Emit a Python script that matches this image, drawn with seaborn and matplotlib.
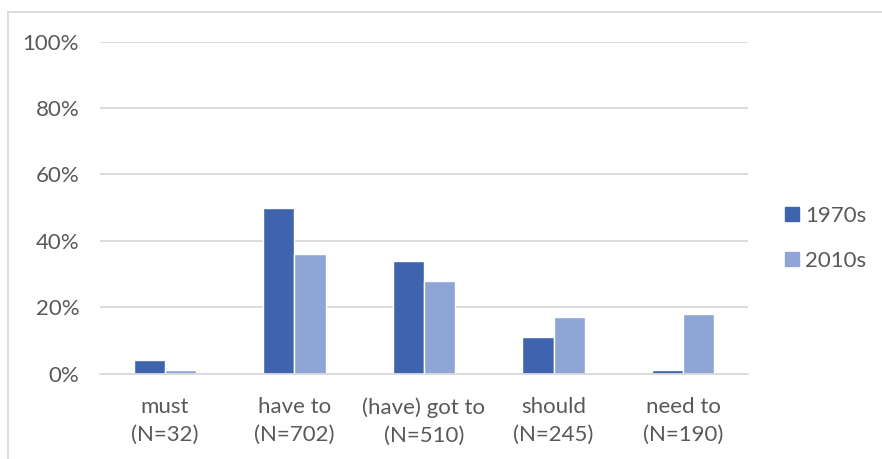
import matplotlib
matplotlib.use("Agg")
import matplotlib.pyplot as plt
from matplotlib.lines import Line2D
from matplotlib.ticker import FuncFormatter
import seaborn as sns
import pandas as pd

# Share of each modal (percent) by decade
categories = ["must\n(N=32)", "have to\n(N=702)", "(have) got to\n(N=510)",
              "should\n(N=245)", "need to\n(N=190)"]
decades = ["1970s", "2010s"]
share_1970s = [4, 50, 34, 11, 1]
share_2010s = [1, 36, 28, 17, 18]
y_ticks = [0, 20, 40, 60, 80, 100]

df = pd.DataFrame({
    "category": categories * 2,
    "decade": [decades[0]] * len(categories) + [decades[1]] * len(categories),
    "share": share_1970s + share_2010s,
})

sns.set_style("white")
plt.rcParams["font.family"] = ["Lato", "DejaVu Sans"]

palette = {"1970s": "#3E64AD", "2010s": "#8FA5D5"}
text_color = "#595959"
grid_color = "#D9D9D9"
font_size = 16

fig = plt.figure(figsize=(8.82, 4.59), dpi=100)
ax = fig.add_axes([100 / 882, 1 - 373.5 / 459, 648 / 882, 332 / 459])

sns.barplot(data=df, x="category", y="share", hue="decade", palette=palette,
            width=0.48, gap=0, saturation=1, ax=ax, legend=False, zorder=3)

ax.set_ylim(0, 100)
ax.set_xlim(-0.5, len(categories) - 0.5)
ax.set_yticks(y_ticks)
ax.yaxis.set_major_formatter(FuncFormatter(lambda v, _: f"{v:.0f}%"))
ax.grid(axis="y", color=grid_color, linewidth=1.3, zorder=0)
ax.grid(axis="x", visible=False)
for side in ["left", "right", "top"]:
    ax.spines[side].set_visible(False)
ax.spines["bottom"].set_color(grid_color)
ax.spines["bottom"].set_linewidth(1.3)
ax.spines["bottom"].set_zorder(4)
ax.tick_params(axis="both", length=0, colors=text_color, labelsize=font_size)
ax.tick_params(axis="y", pad=15)
ax.tick_params(axis="x", pad=17)
for lbl in ax.get_xticklabels():
    lbl.set_linespacing(1.5)
ax.set_xlabel("")
ax.set_ylabel("")

handles = [Line2D([0], [0], marker="s", linestyle="none", markersize=10,
                  markerfacecolor=palette[d], markeredgecolor=palette[d])
           for d in decades]
leg = fig.legend(handles, decades, loc="center left",
                 bbox_to_anchor=(761 / 882, 1 - 238.5 / 459), frameon=False,
                 fontsize=font_size, labelcolor=text_color, handletextpad=0.1,
                 labelspacing=1.12, handlelength=1.0)

# chart area border
fig.add_artist(Line2D([7.5 / 882, 7.5 / 882], [0, 1 - 12 / 459],
                      transform=fig.transFigure, color=grid_color, linewidth=1.3))
fig.add_artist(Line2D([7.5 / 882, 1], [1 - 12 / 459, 1 - 12 / 459],
                      transform=fig.transFigure, color=grid_color, linewidth=1.3))

fig.savefig("out.png", dpi=100, facecolor="white")
